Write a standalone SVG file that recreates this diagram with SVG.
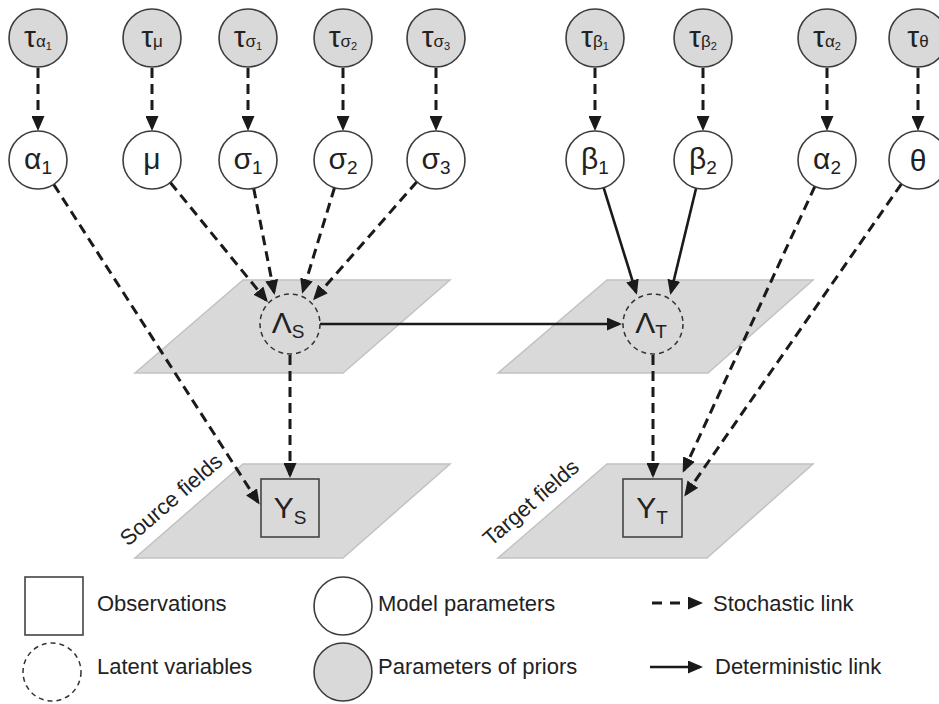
<svg xmlns="http://www.w3.org/2000/svg" width="939" height="704" viewBox="0 0 939 704">
<defs>
<style>
.prior{fill:#d9d9d9;stroke:#3c3c3c;stroke-width:1.6}
.param{fill:#fff;stroke:#3c3c3c;stroke-width:1.6}
.latent{fill:none;stroke:#333;stroke-width:1.5;stroke-dasharray:5 4}
.obs{fill:none;stroke:#444;stroke-width:1.6}
.plane{fill:#d9d9d9;stroke:#c2c2c2;stroke-width:1.5}
.sto{stroke:#1a1a1a;stroke-width:3;stroke-dasharray:10 6;fill:none;marker-end:url(#ah)}
.det{stroke:#1a1a1a;stroke-width:2.6;fill:none;marker-end:url(#ah)}
text{font-family:"Liberation Sans",Arial,sans-serif;fill:#222}
.lbl{font-size:22px}
.big{font-size:30px}
.sub{font-size:19px}
.tau{font-size:30px}
.ts{font-size:17px}
.tss{font-size:11px}
</style>
<marker id="ah" viewBox="0 0 15 13" refX="12" refY="6.5" markerWidth="15" markerHeight="13" markerUnits="userSpaceOnUse" orient="auto">
<path d="M0,0 L15,6.5 L0,13 z" fill="#1a1a1a"/>
</marker>
</defs>
<rect width="939" height="704" fill="#fff"/>

<g id="planes">
<polygon class="plane" points="243,280 450,280 343,373 135,373"/>
<polygon class="plane" points="607,280 813,280 708,373 498,373"/>
<polygon class="plane" points="243,464 450,464 343,558 135,558"/>
<polygon class="plane" points="607,464 813,464 707,558 498,558"/>
<text class="lbl" transform="translate(128,547) rotate(-41)">Source fields</text>
<text class="lbl" transform="translate(491,547) rotate(-41)">Target fields</text>
</g>

<g id="connectors">
<line class="sto" x1="38" y1="68" x2="38" y2="128"/>
<line class="sto" x1="152" y1="68" x2="152" y2="128"/>
<line class="sto" x1="248" y1="68" x2="248" y2="128"/>
<line class="sto" x1="343" y1="68" x2="343" y2="128"/>
<line class="sto" x1="436" y1="68" x2="436" y2="128"/>
<line class="sto" x1="595" y1="68" x2="595" y2="128"/>
<line class="sto" x1="703" y1="68" x2="703" y2="128"/>
<line class="sto" x1="827" y1="68" x2="827" y2="128"/>
<line class="sto" x1="918" y1="68" x2="918" y2="128"/>
<line class="sto" x1="53.7" y1="184.4" x2="258" y2="502"/>
<line class="sto" x1="170.3" y1="182.5" x2="266" y2="300"/>
<line class="sto" x1="253.7" y1="188.4" x2="274" y2="292"/>
<line class="sto" x1="334.5" y1="187.7" x2="303" y2="291"/>
<line class="sto" x1="416.9" y1="181.8" x2="315" y2="298"/>
<line class="det" x1="603.6" y1="187.7" x2="636" y2="292"/>
<line class="det" x1="696.1" y1="188.2" x2="671" y2="292"/>
<line class="sto" x1="814.9" y1="186.3" x2="684" y2="470"/>
<line class="sto" x1="901.5" y1="183.8" x2="686" y2="494"/>
<line class="sto" x1="290" y1="355" x2="290" y2="475"/>
<line class="sto" x1="653" y1="355" x2="653" y2="475"/>
<line class="det" x1="320" y1="324" x2="619" y2="324"/>
</g>

<g id="tau_alpha1"><circle class="prior" cx="38" cy="38" r="29"/><text x="38" y="47" text-anchor="middle"><tspan class="tau">τ</tspan><tspan class="ts" dy="0">α</tspan><tspan class="tss" dy="3">1</tspan></text></g>
<g id="tau_mu"><circle class="prior" cx="152" cy="38" r="29"/><text x="152" y="47" text-anchor="middle"><tspan class="tau">τ</tspan><tspan class="ts" dy="0">μ</tspan></text></g>
<g id="tau_sigma1"><circle class="prior" cx="248" cy="38" r="29"/><text x="248" y="47" text-anchor="middle"><tspan class="tau">τ</tspan><tspan class="ts" dy="0">σ</tspan><tspan class="tss" dy="3">1</tspan></text></g>
<g id="tau_sigma2"><circle class="prior" cx="343" cy="38" r="29"/><text x="343" y="47" text-anchor="middle"><tspan class="tau">τ</tspan><tspan class="ts" dy="0">σ</tspan><tspan class="tss" dy="3">2</tspan></text></g>
<g id="tau_sigma3"><circle class="prior" cx="436" cy="38" r="29"/><text x="436" y="47" text-anchor="middle"><tspan class="tau">τ</tspan><tspan class="ts" dy="0">σ</tspan><tspan class="tss" dy="3">3</tspan></text></g>
<g id="tau_beta1"><circle class="prior" cx="595" cy="38" r="29"/><text x="595" y="47" text-anchor="middle"><tspan class="tau">τ</tspan><tspan class="ts" dy="0">β</tspan><tspan class="tss" dy="3">1</tspan></text></g>
<g id="tau_beta2"><circle class="prior" cx="703" cy="38" r="29"/><text x="703" y="47" text-anchor="middle"><tspan class="tau">τ</tspan><tspan class="ts" dy="0">β</tspan><tspan class="tss" dy="3">2</tspan></text></g>
<g id="tau_alpha2"><circle class="prior" cx="827" cy="38" r="29"/><text x="827" y="47" text-anchor="middle"><tspan class="tau">τ</tspan><tspan class="ts" dy="0">α</tspan><tspan class="tss" dy="3">2</tspan></text></g>
<g id="tau_theta"><circle class="prior" cx="918" cy="38" r="29"/><text x="918" y="47" text-anchor="middle"><tspan class="tau">τ</tspan><tspan class="ts" dy="0">θ</tspan></text></g>

<g id="alpha1"><circle class="param" cx="38" cy="160" r="29"/><text x="38" y="169" text-anchor="middle"><tspan class="big">α</tspan><tspan class="sub" dy="5">1</tspan></text></g>
<g id="mu"><circle class="param" cx="152" cy="160" r="29"/><text x="152" y="169" text-anchor="middle" class="big">μ</text></g>
<g id="sigma1"><circle class="param" cx="248" cy="160" r="29"/><text x="248" y="169" text-anchor="middle"><tspan class="big">σ</tspan><tspan class="sub" dy="5">1</tspan></text></g>
<g id="sigma2"><circle class="param" cx="343" cy="160" r="29"/><text x="343" y="169" text-anchor="middle"><tspan class="big">σ</tspan><tspan class="sub" dy="5">2</tspan></text></g>
<g id="sigma3"><circle class="param" cx="436" cy="160" r="29"/><text x="436" y="169" text-anchor="middle"><tspan class="big">σ</tspan><tspan class="sub" dy="5">3</tspan></text></g>
<g id="beta1"><circle class="param" cx="595" cy="160" r="29"/><text x="595" y="169" text-anchor="middle"><tspan class="big">β</tspan><tspan class="sub" dy="5">1</tspan></text></g>
<g id="beta2"><circle class="param" cx="703" cy="160" r="29"/><text x="703" y="169" text-anchor="middle"><tspan class="big">β</tspan><tspan class="sub" dy="5">2</tspan></text></g>
<g id="alpha2"><circle class="param" cx="827" cy="160" r="29"/><text x="827" y="169" text-anchor="middle"><tspan class="big">α</tspan><tspan class="sub" dy="5">2</tspan></text></g>
<g id="theta"><circle class="param" cx="918" cy="160" r="29"/><text x="918" y="171" text-anchor="middle" class="big">θ</text></g>

<g id="lambda_s"><circle class="latent" cx="290" cy="324" r="30"/><text x="288" y="333" text-anchor="middle"><tspan class="big">Λ</tspan><tspan class="sub" dy="5">S</tspan></text></g>
<g id="lambda_t"><circle class="latent" cx="653" cy="324" r="30"/><text x="651" y="333" text-anchor="middle"><tspan class="big">Λ</tspan><tspan class="sub" dy="5">T</tspan></text></g>
<g id="y_s"><rect class="obs" x="261" y="479" width="58" height="58"/><text x="290" y="518" text-anchor="middle"><tspan class="big">Y</tspan><tspan class="sub" dy="6">S</tspan></text></g>
<g id="y_t"><rect class="obs" x="623" y="479" width="59" height="58"/><text x="652" y="518" text-anchor="middle"><tspan class="big">Y</tspan><tspan class="sub" dy="6">T</tspan></text></g>

<g id="legend">
<rect class="obs" x="25" y="577" width="58" height="58"/>
<text class="lbl" x="97" y="611">Observations</text>
<circle class="latent" cx="52" cy="672" r="29"/>
<text class="lbl" x="97" y="674">Latent variables</text>
<circle class="param" cx="343" cy="606" r="29"/>
<text class="lbl" x="378" y="611">Model parameters</text>
<circle class="prior" cx="343" cy="672" r="29"/>
<text class="lbl" x="378" y="674">Parameters of priors</text>
<line class="sto" x1="652" y1="603" x2="700" y2="603" style="stroke-dasharray:10 8"/>
<text class="lbl" x="713" y="611">Stochastic link</text>
<line class="det" x1="650" y1="667" x2="700" y2="667"/>
<text class="lbl" x="715" y="674">Deterministic link</text>
</g>
</svg>
